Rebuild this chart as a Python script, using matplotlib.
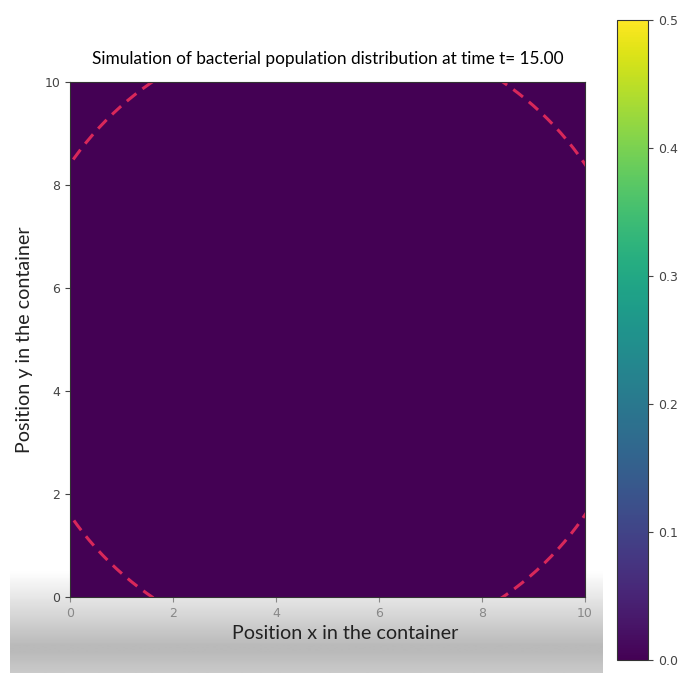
import numpy as np
import matplotlib.pyplot as plt

# grid and population at t = 15 (everything has died out -> zeros)
L = 10.0
n = 100
t = 15.00
x = np.linspace(0, L, n)
y = np.linspace(0, L, n)
population = np.zeros((n, n))

# boundary circle drawn on top
circle_center = (5.0, 5.0)
circle_radius = 6.05

vmin, vmax = 0.0, 0.5
cbar_ticks = [0.0, 0.1, 0.2, 0.3, 0.4, 0.5]

plt.rcParams["font.family"] = ["DejaVu Sans"]
label_font = ["Lato", "DejaVu Sans"]

fig = plt.figure(figsize=(6.81, 6.73), dpi=100)

# grey shading along the bottom of the screenshot
bg = fig.add_axes([0, 0, 1, 1], zorder=-10)
rows = np.linspace(0, 1, 300)
shade = np.where(rows > 0.85, 1 - 0.27 * np.clip((rows - 0.85) / 0.11, 0, 1), 1.0)
shade = np.where(rows > 0.97, shade + 0.06 * (rows - 0.97) / 0.03, shade)
bg.imshow(shade[:, None], cmap="gray", vmin=0, vmax=1, aspect="auto",
          extent=[0.015, 0.885, 0, 1], interpolation="bilinear")
bg.set_xlim(0, 1)
bg.set_ylim(0, 1)
bg.axis("off")

ax = fig.add_axes([0.1028, 0.1129, 0.7562, 0.7652])
im = ax.imshow(population, origin="lower", extent=[0, L, 0, L],
               cmap="viridis", vmin=vmin, vmax=vmax)

theta = np.linspace(0, 2 * np.pi, 400)
ax.plot(circle_center[0] + circle_radius * np.cos(theta),
        circle_center[1] + circle_radius * np.sin(theta),
        color="#d8285a", linestyle="--", linewidth=2.2, dashes=(4, 2.5))
ax.set_xlim(0, L)
ax.set_ylim(0, L)

ax.set_title(f"Simulation of bacterial population distribution at time t= {t:.2f}",
             family=label_font, fontsize=12.4, pad=13)
ax.set_xlabel("Position x in the container", family=label_font, fontsize=14.2,
              color="#222222")
ax.xaxis.set_label_coords(0.535, -0.055)
ax.set_ylabel("Position y in the container", family=label_font, fontsize=14.2,
              color="#222222", labelpad=8)
ax.tick_params(axis="x", colors="#888888", labelsize=9)
ax.tick_params(axis="y", colors="#444444", labelsize=9)
for s in ax.spines.values():
    s.set_color("#333333")

cax = fig.add_axes([0.906, 0.0193, 0.0455, 0.951])
cb = fig.colorbar(im, cax=cax, ticks=cbar_ticks)
cb.ax.tick_params(labelsize=9, colors="#444444")
cb.outline.set_edgecolor("#333333")

fig.savefig("out.png", dpi=100)
